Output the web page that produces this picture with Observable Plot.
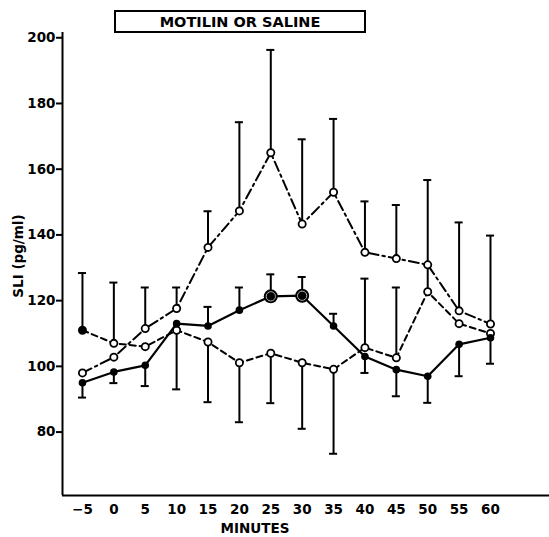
<!DOCTYPE html>
<html>
<head>
<meta charset="utf-8">
<script src="https://cdn.jsdelivr.net/npm/d3@7"></script>
<script src="https://cdn.jsdelivr.net/npm/@observablehq/plot@0.6"></script>
<style>
  body { margin: 0; background: #fff; }
  #wrap { position: relative; width: 549px; height: 537px; }
  #title {
    position: absolute; left: 114px; top: 10px; width: 248px; height: 19px;
    border: 2px solid #000; font: bold 14.5px "DejaVu Sans", sans-serif;
    text-align: center; line-height: 20px; color: #000;
  }
  .lab { position: absolute; font: bold 13.5px "DejaVu Sans", sans-serif; color: #000; white-space: nowrap; }
  #xlab { left: 205px; width: 100px; top: 520px; text-align: center; }
  #ylab { left: -32px; width: 100px; top: 248px; text-align: center; transform: rotate(-90deg); }
  svg g[aria-label="y-axis tick"] path { stroke-width: 2; }
</style>
</head>
<body>
<div id="wrap">
  <div id="title">MOTILIN OR SALINE</div>
  <div id="xlab" class="lab">MINUTES</div>
  <div id="ylab" class="lab">SLI (pg/ml)</div>
</div>
<script>
// Minutes (x)
const minutes = [-5, 0, 5, 10, 15, 20, 25, 30, 35, 40, 45, 50, 55, 60];
// Solid line, filled circles
const solidSLI = [95, 98.3, 100.3, 113, 112.3, 117.1, 121.3, 121.5, 112.3, 103, 99, 97, 106.7, 108.7];
const solidErr = [90.5, 94.9, 94, null, 118.1, 124, 128, 127.2, 116, 98, 90.9, 88.9, 97, 100.8];
const solidSignificant = [false, false, false, false, false, false, true, true, false, false, false, false, false, false];
// Dash-dot line, open circles
const dashDotSLI = [98, 102.8, 111.5, 117.6, 136.2, 147.3, 165, 143.3, 153, 134.7, 132.8, 130.9, 116.9, 112.9];
const dashDotErr = [null, null, 124, 124, 147.2, 174.3, 196.3, 169.1, 175.3, 150.2, 149.1, 156.7, 143.8, 139.8];
// Dashed line, open circles (first point filled)
const dashedSLI = [111, 107, 106, 111, 107.4, 101.1, 104, 101.1, 99.1, 105.7, 102.6, 122.7, 113, 110];
const dashedErr = [128.4, 125.5, null, 93, 89.1, 83, 88.8, 81, 73.4, 126.7, 124, 131, null, null];
const dashedFilled = [true, false, false, false, false, false, false, false, false, false, false, false, false, false];
// Axis
const yTicks = [80, 100, 120, 140, 160, 180, 200];
const xDomain = [-8.18, 69.4];
const yDomain = [60.7, 201.6];
const capHalf = 0.64; // minutes

function rows(vals, errs, flags) {
  return minutes.map((m, i) => ({x: m, y: vals[i], e: errs[i], f: flags ? flags[i] : false}));
}
const solid = rows(solidSLI, solidErr, solidSignificant);
const dashDot = rows(dashDotSLI, dashDotErr);
const dashed = rows(dashedSLI, dashedErr, dashedFilled);
const allErr = [...solid, ...dashDot, ...dashed].filter(d => d.e != null);

const chart = Plot.plot({
  width: 549,
  height: 537,
  marginLeft: 62,
  marginRight: 0,
  marginTop: 32,
  marginBottom: 42,
  style: {fontFamily: "DejaVu Sans, sans-serif", fontWeight: "bold", fontSize: "13.5px", color: "#000", background: "#fff"},
  x: {domain: xDomain, ticks: minutes, tickSize: 0, tickPadding: 9, label: null},
  y: {domain: yDomain, ticks: yTicks, tickSize: 6, tickPadding: 1, label: null},
  marks: [
    Plot.ruleX([xDomain[0]], {stroke: "#000", strokeWidth: 2}),
    Plot.ruleY([yDomain[0]], {stroke: "#000", strokeWidth: 2}),
    // error bars
    Plot.ruleX(allErr, {x: "x", y1: "y", y2: "e", stroke: "#000", strokeWidth: 2}),
    Plot.ruleY(allErr, {y: "e", x1: d => d.x - capHalf, x2: d => d.x + capHalf, stroke: "#000", strokeWidth: 2}),
    // lines
    Plot.line(solid, {x: "x", y: "y", stroke: "#000", strokeWidth: 2.2}),
    Plot.line(dashDot, {x: "x", y: "y", stroke: "#000", strokeWidth: 2, strokeDasharray: "10,4,2.5,4"}),
    Plot.line(dashed, {x: "x", y: "y", stroke: "#000", strokeWidth: 2, strokeDasharray: "6,4"}),
    // dots
    Plot.dot(dashDot, {x: "x", y: "y", r: 3.6, fill: "#fff", stroke: "#000", strokeWidth: 1.8}),
    Plot.dot(dashed, {x: "x", y: "y", r: 3.6, fill: d => d.f ? "#000" : "#fff", stroke: "#000", strokeWidth: 1.8}),
    Plot.dot(solid.filter(d => d.f), {x: "x", y: "y", r: 7, fill: "#000"}),
    Plot.dot(solid.filter(d => d.f), {x: "x", y: "y", r: 4.6, fill: "none", stroke: "#bbb", strokeWidth: 1}),
    Plot.dot(solid, {x: "x", y: "y", r: 3.8, fill: "#000"})
  ]
});
document.getElementById("wrap").prepend(chart);
</script>
</body>
</html>
